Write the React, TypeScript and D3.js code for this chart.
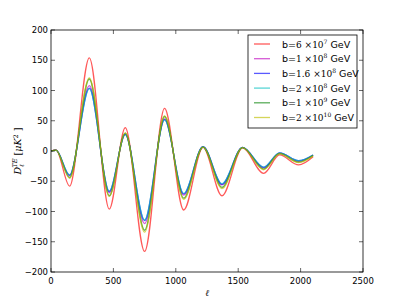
import React from "react";
import * as d3 from "d3";

// multipole positions of the extrema
const ells = [2, 40, 149, 307, 467, 595, 750, 910, 1063, 1218, 1370, 1535, 1704, 1832, 1984, 2100];

const red = [0, 2, -58, 154, -96, 38.5, -166, 70.5, -97.5, 6, -74, 5, -37, -6.5, -23, -9.5];
const magenta = [0, 1.5, -41, 108, -69, 28, -120, 53, -73, 7, -56, 6, -28, -3.5, -17, -7];
const blue = [0, 1.5, -40, 104, -67, 27.5, -115, 52, -71, 7, -55, 6, -27, -3, -16, -6.5];
const cyan = [0, 1.5, -39.5, 103, -66, 27, -114, 51.5, -70, 7, -54, 6, -26.5, -3, -16, -6.5];
const green = [0, 1.5, -44, 119, -74, 29.5, -131, 57, -78, 6.5, -60, 5.5, -30, -4.5, -18.5, -7.5];
const yellow = [0, 1.5, -45, 121, -75, 30, -134, 58, -80, 6.5, -62, 5.5, -31, -4.5, -19, -8];

const series = [
  { mant: "6", exp: "7", color: "#ff0000", values: red },
  { mant: "1", exp: "8", color: "#bf00bf", values: magenta },
  { mant: "1.6", exp: "8", color: "#0000ff", values: blue },
  { mant: "2", exp: "8", color: "#00bfbf", values: cyan },
  { mant: "1", exp: "9", color: "#008000", values: green },
  { mant: "2", exp: "10", color: "#bfbf00", values: yellow },
];

const xTicks = [0, 500, 1000, 1500, 2000, 2500];
const yTicks = [-200, -150, -100, -50, 0, 50, 100, 150, 200];

const W = 403;
const H = 303;
const margin = { left: 51, right: 40, top: 30, bottom: 31 };

const App: React.FC = () => {
  const x = d3.scaleLinear().domain([0, 2500]).range([margin.left, W - margin.right]);
  const y = d3.scaleLinear().domain([-200, 200]).range([H - margin.bottom, margin.top]);

  const line = d3
    .line<number>()
    .x((_, i) => x(ells[i]))
    .y((d) => y(d))
    .curve(d3.curveMonotoneX);

  const x0 = x(0);
  const x1 = x(2500);
  const y0 = y(-200);
  const y1 = y(200);
  const font = "DejaVu Sans, sans-serif";
  const serif = "DejaVu Serif, serif";

  const legX = 248;
  const legY = 35;

  return (
    <svg
      width={W}
      height={H}
      style={{ position: "absolute", left: 0, top: 0, background: "#fff" }}
      fontFamily={font}
    >
      <defs>
        <clipPath id="plot">
          <rect x={x0} y={y1} width={x1 - x0} height={y0 - y1} />
        </clipPath>
      </defs>

      <g clipPath="url(#plot)">
        {series.map((s) => (
          <path
            key={s.color}
            d={line(s.values) ?? ""}
            fill="none"
            stroke={s.color}
            strokeOpacity={0.65}
            strokeWidth={1.3}
          />
        ))}
      </g>

      {/* ticks, inward on all sides */}
      {xTicks.map((t) => (
        <g key={"x" + t}>
          <line x1={x(t)} x2={x(t)} y1={y0} y2={y0 - 4} stroke="#000" strokeWidth={0.6} />
          <line x1={x(t)} x2={x(t)} y1={y1} y2={y1 + 4} stroke="#000" strokeWidth={0.6} />
          <text x={x(t)} y={y0 + 12} fontSize={8.5} textAnchor="middle">
            {t}
          </text>
        </g>
      ))}
      {yTicks.map((t) => (
        <g key={"y" + t}>
          <line x1={x0} x2={x0 + 4} y1={y(t)} y2={y(t)} stroke="#000" strokeWidth={0.6} />
          <line x1={x1} x2={x1 - 4} y1={y(t)} y2={y(t)} stroke="#000" strokeWidth={0.6} />
          <text x={x0 - 3} y={y(t) + 3} fontSize={8.5} textAnchor="end">
            {t < 0 ? "\u2212" + Math.abs(t) : t}
          </text>
        </g>
      ))}

      <rect x={x0} y={y1} width={x1 - x0} height={y0 - y1} fill="none" stroke="#000" strokeWidth={0.8} />

      {/* axis labels */}
      <text x={(x0 + x1) / 2} y={H - 7} fontSize={9} fontFamily={serif} fontStyle="italic" textAnchor="middle">
        ℓ
      </text>
      <text
        transform={`translate(21,${(y0 + y1) / 2}) rotate(-90)`}
        fontSize={9.5}
        fontFamily={serif}
        textAnchor="middle"
      >
        <tspan fontStyle="italic">D</tspan>
        <tspan fontSize={6.5} dy={2.5} fontStyle="italic">ℓ</tspan>
        <tspan fontSize={6.5} dy={-7} dx={-3.5} fontStyle="italic">TE</tspan>
        <tspan dy={4.5}> [</tspan>
        <tspan fontStyle="italic">μK</tspan>
        <tspan fontSize={6.5} dy={-3.5}>2</tspan>
        <tspan dy={3.5}> ]</tspan>
      </text>

      {/* legend */}
      <rect x={legX} y={legY} width={109} height={93} fill="#fff" stroke="#000" strokeWidth={0.8} />
      {series.map((s, i) => {
        const ry = legY + 9 + i * 14.7;
        return (
          <g key={"l" + i}>
            <line x1={legX + 6} x2={legX + 22} y1={ry} y2={ry} stroke={s.color} strokeOpacity={0.65} strokeWidth={1.3} />
            <text x={legX + 34} y={ry + 3.5} fontSize={9.5}>
              b=
              <tspan fontFamily={serif} fontSize={9}>
                {s.mant} ×10
              </tspan>
              <tspan fontFamily={serif} fontSize={6} dy={-4}>
                {s.exp}
              </tspan>
              <tspan dy={4}> GeV</tspan>
            </text>
          </g>
        );
      })}
    </svg>
  );
};

export default App;
